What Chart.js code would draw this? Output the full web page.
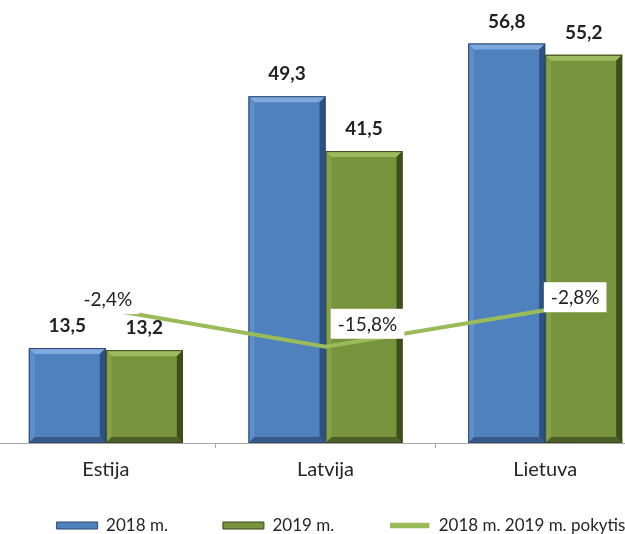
<!DOCTYPE html>
<html>
<head>
<meta charset="utf-8">
<script src="https://cdn.jsdelivr.net/npm/chart.js@4.4.1/dist/chart.umd.min.js"></script>
<style>
  html, body { margin: 0; padding: 0; background: #fff; overflow: hidden; }
  body { width: 625px; height: 534px; position: relative; }
  #wrap { position: absolute; left: -20px; top: 0; }
</style>
</head>
<body>
<div id="wrap"><canvas id="graphic" width="706" height="544"></canvas></div>
<script>
const categories = ['Estija', 'Latvija', 'Lietuva'];
const values2018 = [13.5, 49.3, 56.8];
const values2019 = [13.2, 41.5, 55.2];
const changePct = [-2.4, -15.8, -2.8];
const seriesNames = ['2018 m.', '2019 m.', '2018 m. 2019 m. pokytis'];

// where the % boxes sit relative to their point (Excel moved them by hand)
const pctLabelShift = [[2, -10], [42, -23], [30, -13]];

const fmt = v => v.toFixed(1).replace('.', ',');

const bevelColors = {
    '2018 m.': {top: '#80a9dd', left: '#5e8ecb', right: '#2e5180', bottom: '#36598a', edge: '#2a4770'},
    '2019 m.': {top: '#9ebc5f', left: '#84a146', right: '#3d501c', bottom: '#4c5f26', edge: '#38461a'}
};

//Bevel + value labels on the bars, boxed labels on the line
const decorate = {
    id: 'decorate',
    afterDatasetDraw(chart, args) {
        const ds = chart.data.datasets[args.index];
        if (ds.type === 'line') return;
        const ctx = chart.ctx;
        const c = bevelColors[ds.label];
        const b = 6;
        args.meta.data.forEach(el => {
            const p = el.getProps(['x', 'y', 'base', 'width'], true);
            const l = p.x - p.width / 2, r = p.x + p.width / 2, t = p.y, bo = p.base;
            const poly = (pts, col) => {
                ctx.beginPath();
                ctx.moveTo(pts[0][0], pts[0][1]);
                pts.slice(1).forEach(q => ctx.lineTo(q[0], q[1]));
                ctx.closePath();
                ctx.fillStyle = col;
                ctx.fill();
            };
            ctx.save();
            poly([[l, t], [r, t], [r - b, t + b], [l + b, t + b]], c.top);
            poly([[l, t], [l + b, t + b], [l + b, bo - b], [l, bo]], c.left);
            poly([[r, t], [r, bo], [r - b, bo - b], [r - b, t + b]], c.right);
            poly([[l, bo], [r, bo], [r - b, bo - b], [l + b, bo - b]], c.bottom);
            ctx.strokeStyle = c.edge;
            ctx.lineWidth = 1;
            ctx.strokeRect(l + 0.5, t + 0.5, p.width - 1, bo - t - 1);
            ctx.restore();
        });
    },
    afterDatasetsDraw(chart) {
        const ctx = chart.ctx;
        ctx.save();
        chart.data.datasets.forEach((ds, i) => {
            const meta = chart.getDatasetMeta(i);
            meta.data.forEach((el, j) => {
                const p = el.getProps(['x', 'y'], true);
                if (ds.type === 'line') {
                    const txt = fmt(ds.data[j]) + '%';
                    ctx.font = '19px Lato';
                    const w = ctx.measureText(txt).width + 14;
                    const h = 30;
                    const cx = p.x + pctLabelShift[j][0], cy = p.y + pctLabelShift[j][1];
                    ctx.fillStyle = '#ffffff';
                    ctx.fillRect(cx - w / 2, cy - h / 2, w, h);
                    ctx.fillStyle = '#222222';
                    ctx.textAlign = 'center';
                    ctx.textBaseline = 'middle';
                    ctx.fillText(txt, cx, cy + 1);
                } else {
                    ctx.font = 'bold 19px Lato';
                    ctx.fillStyle = '#222222';
                    ctx.textAlign = 'center';
                    ctx.textBaseline = 'middle';
                    ctx.fillText(fmt(ds.data[j]), p.x, p.y - 22);
                }
            });
        });
        ctx.restore();
    }
};

const chartElement = document.getElementById('graphic');
const newChart = new Chart(chartElement, {
    type: 'bar',
    data: {
        labels: categories,
        datasets: [{
            label: seriesNames[0],
            data: values2018,
            backgroundColor: '#4f81bd',
            borderWidth: 0,
            categoryPercentage: 0.701,
            barPercentage: 1,
            yAxisID: 'y',
            order: 2
        }, {
            label: seriesNames[1],
            data: values2019,
            backgroundColor: '#77933c',
            borderWidth: 0,
            categoryPercentage: 0.701,
            barPercentage: 1,
            yAxisID: 'y',
            order: 2
        }, {
            type: 'line',
            label: seriesNames[2],
            data: changePct,
            borderColor: '#9bbb59',
            backgroundColor: '#9bbb59',
            borderWidth: 4,
            pointRadius: 0,
            tension: 0,
            yAxisID: 'y1',
            order: 1
        }]
    },
    options: {
        responsive: false,
        animation: false,
        layout: { padding: { left: 16, right: 0, top: 21, bottom: 0 } },
        scales: {
            x: {
                grid: { display: true, drawOnChartArea: false, drawTicks: true, tickLength: 5, color: '#a6a6a6' },
                border: { display: true, color: '#a6a6a6' },
                // mirror + negative padding: label sits below the axis without being clipped to the thin axis box
                ticks: { color: '#262626', font: { family: 'Lato', size: 20 }, mirror: true, padding: -39 },
                afterFit: s => { s.height = 19; }
            },
            y: {
                display: false,
                min: 0,
                max: 60
            },
            y1: {
                position: 'right',
                min: -50,
                max: 100,
                grid: { display: false },
                border: { display: false },
                ticks: { display: false },
                afterFit: s => { s.width = 31; }
            }
        },
        plugins: {
            tooltip: { enabled: false },
            legend: {
                position: 'bottom',
                labels: {
                    boxWidth: 41,
                    boxHeight: 7,
                    padding: 55,
                    color: '#262626',
                    font: { family: 'Lato', size: 17 },
                    sort: (a, b) => a.datasetIndex - b.datasetIndex,
                    generateLabels: chart => {
                        const items = Chart.defaults.plugins.legend.labels.generateLabels(chart);
                        items.forEach(it => {
                            if (it.datasetIndex === 2) {
                                it.strokeStyle = '#ffffff';
                                it.lineWidth = 1.5;
                            } else {
                                it.strokeStyle = it.datasetIndex === 0 ? '#2a4770' : '#38461a';
                                it.lineWidth = 1;
                            }
                        });
                        return items;
                    }
                }
            }
        }
    },
    plugins: [decorate]
});
</script>
</body>
</html>
